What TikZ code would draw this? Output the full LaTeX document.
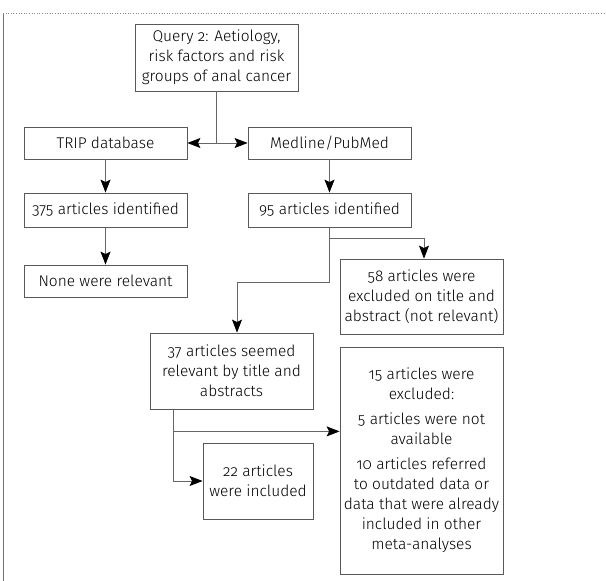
\documentclass[tikz,border=0pt]{standalone}
\usepackage{fontspec}
\IfFontExistsTF{Fira Sans Light}
	{\setmainfont[Numbers=OldStyle]{Fira Sans Light}}
	{\setmainfont[Numbers=OldStyle]{Fira Sans}}
\usetikzlibrary{arrows.meta,calc}

\begin{document}
\begin{tikzpicture}[x=1pt,y=-1pt,
	box/.style={draw=black!65, line width=0.8pt, align=center, inner sep=2pt,
		minimum width=163pt, font=\fontsize{15.5}{20}\selectfont},
	link/.style={draw=black!60, line width=0.9pt},
	arrow/.style={link, -{Stealth[length=13pt,width=10pt,inset=2.5pt,black]}},
	twoway/.style={link, {Stealth[length=13pt,width=10pt,inset=2.5pt,black]}-{Stealth[length=13pt,width=10pt,inset=2.5pt,black]}}]
	\useasboundingbox (0,0) rectangle (606,581);
	% page frame
	\draw [black!55, line width=0.6pt] (3,13) -- (3,581);
	\draw [black!45, dotted, line width=0.6pt] (3,13) -- (606,13);
	% boxes
	\node [box, minimum height=67pt] (query) at (216.5,57.5) {Query 2: Aetiology,\\risk factors and risk\\groups of anal cancer};
	\node [box, minimum height=32pt] (trip) at (105.5,143) {TRIP database};
	\node [box, minimum height=32pt] (medline) at (329.5,143) {Medline/PubMed};
	\node [box, minimum height=34pt] (trip375) at (105.5,210) {375 articles identified};
	\node [box, minimum height=34pt] (med95) at (329.5,210) {95 articles identified};
	\node [box, minimum height=32pt] (none) at (105.5,281) {None were relevant};
	\node [box, minimum height=75pt] (excl58) at (421.5,296.5) {58 articles were\\excluded on title and\\abstract (not relevant)};
	\node [box, minimum height=76pt] (seem37) at (231.5,371) {37 articles seemed\\relevant by title and\\abstracts};
	\node [box, minimum height=227pt] (excl15) at (421.5,460.5) {15 articles were\\excluded:\\[5pt]5 articles were not\\available\\[5pt]10 articles referred\\to outdated data or\\data that were already\\included in other\\meta-analyses};
	\node [box, minimum width=110pt, minimum height=76pt] (incl22) at (258,481) {22 articles\\were included};
	% connectors
	\draw [link] (query.south) -- (query.south |- trip.east);
	\draw [twoway] (trip.east) -- (medline.west);
	\draw [arrow] (trip) -- (trip375);
	\draw [arrow] (medline) -- (med95);
	\draw [arrow] (trip375) -- (none);
	\coordinate (fork95) at ($(med95.south)+(0,11)$);
	\draw [arrow] (med95.south) -- (fork95) -| ($(excl58.north)+(2.5,0)$);
	\draw [arrow] (fork95) -- ++(0,44) -| ($(seem37.north)+(5.5,0)$);
	\coordinate (fork37) at ($(seem37.south west)+(24,0)$);
	\coordinate (fork15) at ($(fork37)+(0,22)$);
	\draw [arrow] (fork37) |- (incl22.west);
	\draw [arrow] (fork15) -- (fork15 -| excl15.west);
\end{tikzpicture}
\end{document}
